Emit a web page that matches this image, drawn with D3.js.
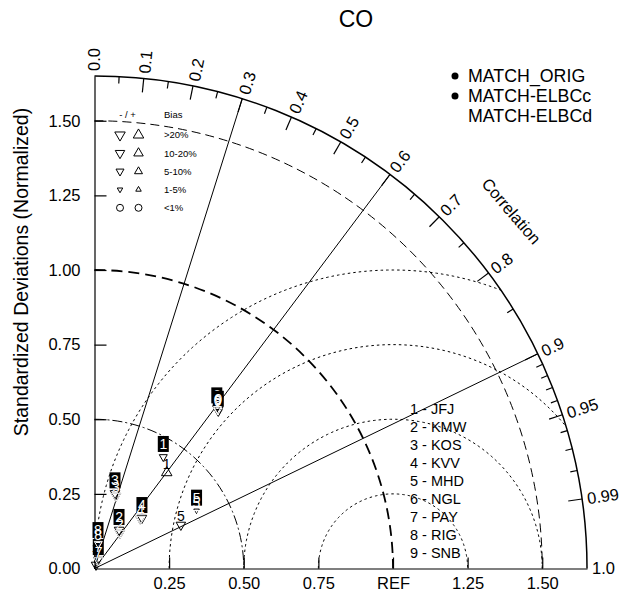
<!DOCTYPE html>
<html><head><meta charset="utf-8">
<script src="https://cdn.jsdelivr.net/npm/d3@7"></script>
<style>
body{margin:0;background:#fff}
text{font-family:"Liberation Sans",Arial,Helvetica,sans-serif}
</style>
</head><body>
<svg id="chart" width="627" height="603"></svg>
<script>
// ---------------- data ----------------
const title = "CO";
const models = ["MATCH_ORIG", "MATCH-ELBCc", "MATCH-ELBCd"];
const modelColors = ["#000", "#000", "#fff"];
const stations = ["JFJ", "KMW", "KOS", "KVV", "MHD", "NGL", "PAY", "RIG", "SNB"];

// normalized standard deviation, correlation, bias (%) per model
const sdOrig   = [0.402, 0.146, 0.253, 0.226, 0.324, 0.678, 0.013, 0.069, 0.677];
const corrOrig = [0.602, 0.583, 0.284, 0.681, 0.893, 0.605, 0.39, 0.12, 0.616];
const biasOrig = [25, -12, -15, -12, -15, -7, -15, -10, -8];

const sdElbcC   = [0.439, 0.153, 0.261, 0.232, 0.393, 0.675, 0.031, 0.086, 0.669];
const corrElbcC = [0.525, 0.537, 0.263, 0.685, 0.870, 0.607, 0.41, 0.136, 0.620];
const biasElbcC = [-7, -12, -15, -12, -3, -7, -15, -10, -8];

const sdElbcD   = [0.33, 0.146, 0.253, 0.226, 0.39, 0.675, 0.03, 0.084, 0.672];
const corrElbcD = [0.75, 0.583, 0.284, 0.681, 0.875, 0.61, 0.45, 0.15, 0.615];
const biasElbcD = [-7, -12, -15, -12, -3, -7, -15, -10, -8];

const stdTicks = [0.25, 0.5, 0.75, 1.0, 1.25, 1.5];
const stdTickLabels = ["0.25", "0.50", "0.75", "REF", "1.25", "1.50"];
const yTicks = [0, 0.25, 0.5, 0.75, 1.0, 1.25, 1.5];
const yTickLabels = ["0.00", "0.25", "0.50", "0.75", "1.00", "1.25", "1.50"];
const corrMajor = [0.0, 0.1, 0.2, 0.3, 0.4, 0.5, 0.6, 0.7, 0.8, 0.9, 0.95, 0.99, 1.0];
const corrMajorLabels = ["0.0", "0.1", "0.2", "0.3", "0.4", "0.5", "0.6", "0.7", "0.8", "0.9", "0.95", "0.99", "1.0"];
const corrMinor = [0.05, 0.15, 0.25, 0.35, 0.45, 0.55, 0.65, 0.75, 0.85, 0.91, 0.92, 0.93, 0.94, 0.96, 0.97, 0.98];
const corrRays = [0.3, 0.6, 0.9];
const stdArcs = [0.5, 1.5];
const refArc = 1.0;
const rmsArcs = [0.25, 0.5, 0.75, 1.0];
const maxStd = 1.65;
const biasClasses = [">20%", "10-20%", "5-10%", "1-5%", "<1%"];

// ---------------- layout ----------------
const svg = d3.select("#chart");
const ox = 94.5, oy = 568.5;
const R = d3.scaleLinear().domain([0, maxStd]).range([0, maxStd * 298.5]);
const xS = d3.scaleLinear().domain([0, maxStd]).range([ox, ox + R(maxStd)]);
const yS = d3.scaleLinear().domain([0, maxStd]).range([oy, oy - R(maxStd)]);
const toXY = (sd, c) => { const a = Math.acos(c); return [xS(sd * Math.cos(a)), yS(sd * Math.sin(a))]; };

// title
svg.append("text").attr("x", 356).attr("y", 27).attr("text-anchor", "middle")
  .attr("font-size", 23).text(title);

// std dev arcs around origin
function arcPath(r0, dash, w) {
  const p = d3.path();
  const rr = R(r0);
  p.moveTo(ox, oy - rr);
  p.arc(ox, oy, rr, -Math.PI / 2, 0);
  svg.append("path").attr("d", p.toString()).attr("fill", "none").attr("stroke", "#000")
    .attr("stroke-width", w).attr("stroke-dasharray", dash);
}
arcPath(stdArcs[0], "10,3,2,3", 1);
arcPath(stdArcs[1], "9,5", 1);
arcPath(refArc, "11,6", 1.8);

// RMS arcs centred at REF
const lineGen = d3.line().x(d => xS(d[0])).y(d => yS(d[1]));
rmsArcs.forEach(rr => {
  let cmin = (maxStd * maxStd - 1 - rr * rr) / (2 * rr);
  let phiMin = cmin >= 1 ? 0 : Math.acos(Math.max(-1, cmin));
  const pts = d3.range(0, 201).map(i => {
    const phi = Math.PI - (Math.PI - phiMin) * i / 200;
    return [1 + rr * Math.cos(phi), rr * Math.sin(phi)];
  });
  svg.append("path").attr("d", lineGen(pts)).attr("fill", "none").attr("stroke", "#000")
    .attr("stroke-width", 1).attr("stroke-dasharray", "2.5,3");
});

// correlation rays
corrRays.forEach(c => {
  const [x, y] = toXY(maxStd, c);
  svg.append("line").attr("x1", ox).attr("y1", oy).attr("x2", x).attr("y2", y)
    .attr("stroke", "#000").attr("stroke-width", 1);
});

// outer arc
{
  const p = d3.path(); const rr = R(maxStd);
  p.moveTo(ox, oy - rr); p.arc(ox, oy, rr, -Math.PI / 2, 0);
  svg.append("path").attr("d", p.toString()).attr("fill", "none").attr("stroke", "#000").attr("stroke-width", 1.5);
}

// correlation ticks & labels
function corrTick(c, len) {
  const a = Math.acos(c), rr = R(maxStd);
  svg.append("line")
    .attr("x1", ox + rr * Math.cos(a)).attr("y1", oy - rr * Math.sin(a))
    .attr("x2", ox + (rr - len) * Math.cos(a)).attr("y2", oy - (rr - len) * Math.sin(a))
    .attr("stroke", "#000").attr("stroke-width", 1.2);
}
corrMajor.forEach(c => { if (c > 0 && c < 1) corrTick(c, 14); });
corrMinor.forEach(c => corrTick(c, 7));
corrMajor.forEach((c, i) => {
  const a = Math.acos(c), rr = R(maxStd) + 5;
  const x = ox + rr * Math.cos(a), y = oy - rr * Math.sin(a);
  svg.append("text").attr("transform", `translate(${x},${y}) rotate(${-a * 180 / Math.PI})`)
    .attr("dy", "0.36em").attr("font-size", 16.5).text(corrMajorLabels[i]);
});
{
  const a = 40.6 * Math.PI / 180, rr = R(1.84);
  const x = ox + rr * Math.cos(a), y = oy - rr * Math.sin(a);
  svg.append("text").attr("transform", `translate(${x},${y}) rotate(${90 - 40.6})`)
    .attr("text-anchor", "middle").attr("dy", "0.36em").attr("font-size", 16.5).text("Correlation");
}

// axes
const xAxis = d3.axisBottom(xS).tickValues(stdTicks).tickFormat((d, i) => stdTickLabels[i])
  .tickSizeInner(-11).tickSizeOuter(0).tickPadding(9);
const gx = svg.append("g").attr("transform", `translate(0,${oy})`).call(xAxis);
const yAxis = d3.axisLeft(yS).tickValues(yTicks).tickFormat((d, i) => yTickLabels[i])
  .tickSizeInner(-12).tickSizeOuter(0).tickPadding(14);
const gy = svg.append("g").attr("transform", `translate(${ox},0)`).call(yAxis);
[gx, gy].forEach(g => {
  g.selectAll("text").attr("font-size", 16.5).attr("font-family", '"Liberation Sans",Arial,sans-serif').attr("fill", "#000");
  g.selectAll("line,path").attr("stroke", "#000").attr("stroke-width", 1.2);
});
gy.selectAll(".tick").filter(d => d === 0).select("line").remove();
gx.selectAll(".tick").filter(d => d === 0).select("line").remove();

svg.append("text").attr("transform", `translate(28,${272}) rotate(-90)`).attr("text-anchor", "middle")
  .attr("font-size", 19.5).text("Standardized Deviations (Normalized)");

// markers
const triSizes = [10.5, 9.5, 8, 5.5];
function biasClass(b) { const a = Math.abs(b); return a > 20 ? 0 : a > 10 ? 1 : a > 5 ? 2 : a > 1 ? 3 : 4; }
function drawMarker(x, y, cls, down, color) {
  if (cls === 4) {
    svg.append("circle").attr("cx", x).attr("cy", y).attr("r", 3.5).attr("fill", "none")
      .attr("stroke", color).attr("stroke-width", 1);
    return;
  }
  const s = triSizes[cls], h = s * 0.866, d = down ? 1 : -1;
  const pts = [[x - s / 2, y - d * h / 3], [x + s / 2, y - d * h / 3], [x, y + d * 2 * h / 3]];
  svg.append("path").attr("d", "M" + pts.map(p => p.join(",")).join("L") + "Z")
    .attr("fill", "none").attr("stroke", color).attr("stroke-width", 1);
}

const modelData = [
  { sd: sdOrig, corr: corrOrig, bias: biasOrig, style: "plain", color: "#000" },
  { sd: sdElbcC, corr: corrElbcC, bias: biasElbcC, style: "box", color: "#000" },
  { sd: sdElbcD, corr: corrElbcD, bias: biasElbcD, style: "plain", color: "#fff" }
];
modelData.forEach(m => {
  stations.forEach((st, i) => {
    const [x, y] = toXY(m.sd[i], m.corr[i]);
    const cls = biasClass(m.bias[i]);
    drawMarker(x, y, cls, m.bias[i] < 0, m.color);
    const lab = String(i + 1);
    if (m.style === "box") {
      svg.append("rect").attr("x", x - 5.5).attr("y", y - 21).attr("width", 11).attr("height", 16).attr("fill", "#000");
      svg.append("text").attr("x", x).attr("y", y - 13).attr("dy", "0.36em").attr("text-anchor", "middle")
        .attr("font-size", 14).attr("fill", "#fff").text(lab);
    } else {
      svg.append("text").attr("x", x).attr("y", y - 4).attr("text-anchor", "middle")
        .attr("font-size", 14).attr("fill", m.color).text(lab);
    }
  });
});

// model legend
models.forEach((m, i) => {
  const y = 76 + i * 20;
  svg.append("circle").attr("cx", 455).attr("cy", y).attr("r", 3.5).attr("fill", modelColors[i]);
  svg.append("text").attr("x", 468).attr("y", y).attr("dy", "0.36em").attr("font-size", 17.8).text(m);
});

// bias legend
svg.append("text").attr("x", 127.5).attr("y", 115).attr("dy", "0.36em").attr("text-anchor", "middle")
  .attr("font-size", 9.5).text("- / +");
svg.append("text").attr("x", 164).attr("y", 115).attr("dy", "0.36em").attr("font-size", 9.5).text("Bias");
biasClasses.forEach((b, i) => {
  const y = 135 + i * 18.2;
  drawMarker(120, y, i, true, "#000");
  drawMarker(138.5, y, i, false, "#000");
  svg.append("text").attr("x", 164).attr("y", y).attr("dy", "0.36em").attr("font-size", 9.5).text(b);
});

// station legend
stations.forEach((s, i) => {
  svg.append("text").attr("x", 410).attr("y", 408.5 + i * 18).attr("dy", "0.36em")
    .attr("font-size", 14.5).text(`${i + 1} - ${s}`);
});
</script>
</body></html>
